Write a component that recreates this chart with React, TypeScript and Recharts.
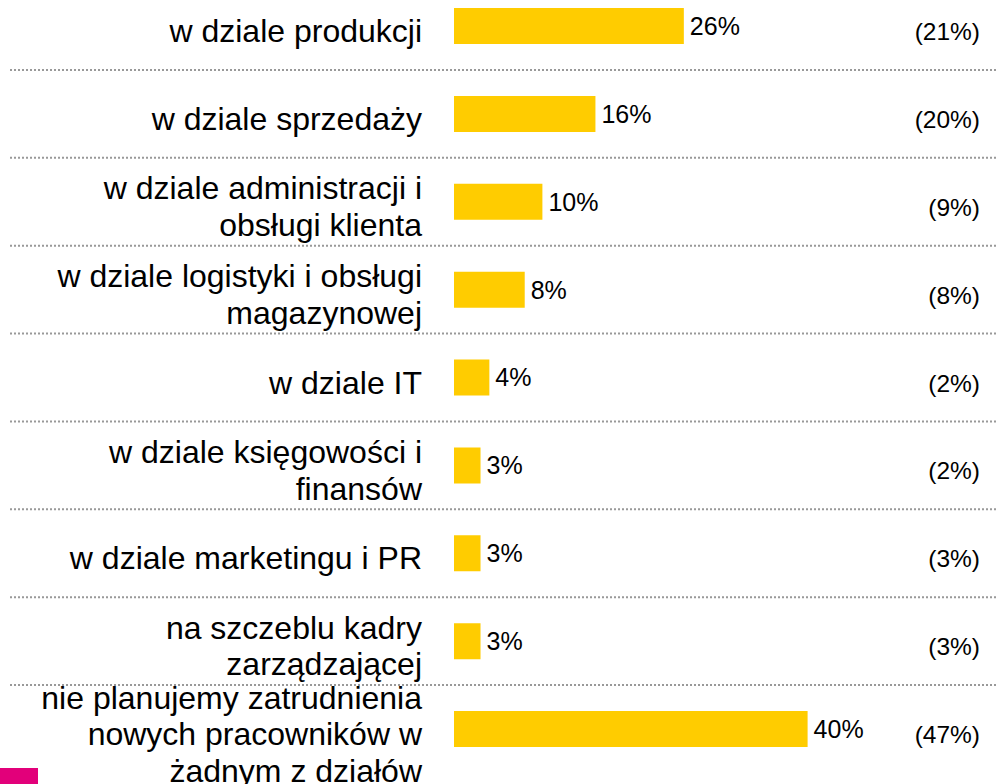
import { BarChart, Bar, XAxis, YAxis, CartesianGrid, LabelList } from 'recharts'

const categories = [
  'w dziale produkcji',
  'w dziale sprzedaży',
  'w dziale administracji i\nobsługi klienta',
  'w dziale logistyki i obsługi\nmagazynowej',
  'w dziale IT',
  'w dziale księgowości i\nfinansów',
  'w dziale marketingu i PR',
  'na szczeblu kadry\nzarządzającej',
  'nie planujemy zatrudnienia\nnowych pracowników w\nżadnym z działów'
]
const currentValues = [26, 16, 10, 8, 4, 3, 3, 3, 40]
const previousValues = [21, 20, 9, 8, 2, 2, 3, 3, 47]

const data = categories.map((name, i) => ({
  name,
  current: currentValues[i],
  previous: previousValues[i]
}))

const FONT = '"Liberation Sans", Arial, sans-serif'

function LeftTick({ x, y, payload }: any) {
  const lines = String(payload.value).split('\n')
  const lh = 36.5
  const startY = y - ((lines.length - 1) * lh) / 2 + 16
  return (
    <text x={x - 24} y={startY} textAnchor="end" fontSize={32} fill="#000" fontFamily={FONT}>
      {lines.map((l, i) => (
        <tspan key={i} x={x - 24} dy={i === 0 ? 0 : lh}>
          {l}
        </tspan>
      ))}
    </text>
  )
}

function RightTick({ x, y, payload }: any) {
  const v = previousValues[payload.index]
  return (
    <text x={x + 76} y={y + 14} textAnchor="end" fontSize={24.5} fill="#000" fontFamily={FONT}>
      {`(${v}%)`}
    </text>
  )
}

// dotted separators on the band edges between categories
function bandEdges({ yAxis, offset }: any) {
  const s = yAxis && yAxis.scale
  if (typeof s === 'function' && typeof s.bandwidth === 'function') {
    return categories.slice(1).map((c) => s(c))
  }
  const band = offset.height / categories.length
  return categories.slice(1).map((_, i) => offset.top + band * (i + 1))
}

export default function App() {
  return (
    <div style={{ position: 'absolute', left: 0, top: 0, width: 996, height: 784, overflow: 'hidden', background: '#fff' }}>
      <BarChart
        width={996}
        height={784}
        data={data}
        layout="vertical"
        margin={{ top: -18, right: 0, bottom: 11, left: 0 }}
      >
        <CartesianGrid
          vertical={false}
          x={10}
          width={986}
          yAxisId="left"
          stroke="#999"
          strokeWidth={2}
          strokeDasharray="2 2"
          horizontalCoordinatesGenerator={bandEdges}
        />
        <XAxis type="number" domain={[0, 50]} hide />
        <YAxis
          yAxisId="left"
          type="category"
          dataKey="name"
          width={454}
          interval={0}
          axisLine={false}
          tickLine={false}
          tick={<LeftTick />}
        />
        <YAxis
          yAxisId="right"
          orientation="right"
          type="category"
          dataKey="name"
          width={100}
          interval={0}
          axisLine={false}
          tickLine={false}
          tick={<RightTick />}
        />
        <Bar yAxisId="left" dataKey="current" fill="#FFCC00" barSize={36} isAnimationActive={false}>
          <LabelList
            dataKey="current"
            position="right"
            offset={6}
            formatter={(v: any) => `${v}%`}
            fill="#000"
            fontSize={25}
            fontFamily={FONT}
          />
        </Bar>
      </BarChart>
      <div style={{ position: 'absolute', left: 0, top: 768, width: 38, height: 16, background: '#E2007A' }} />
    </div>
  )
}
